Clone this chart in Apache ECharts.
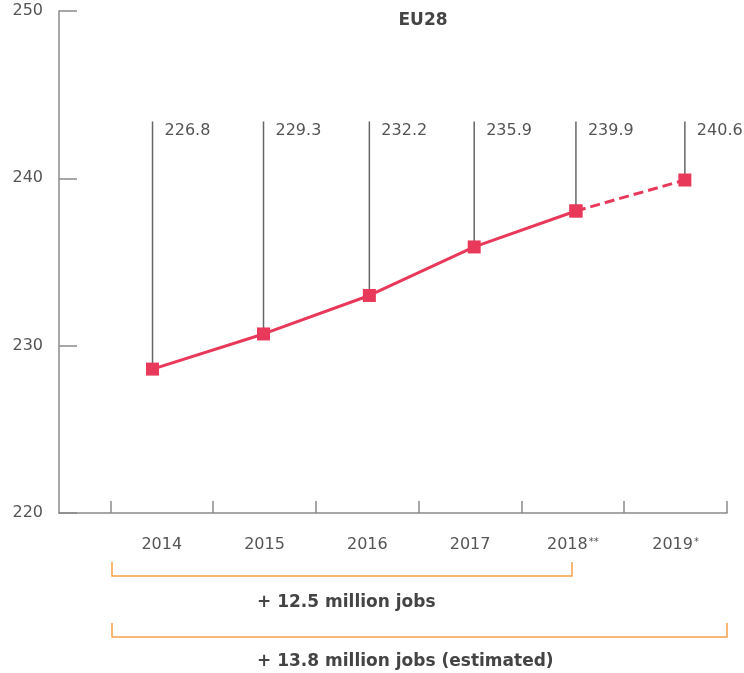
<!DOCTYPE html>
<html>
<head>
<meta charset="utf-8">
<script src="https://cdn.jsdelivr.net/npm/echarts@6/dist/echarts.min.js"></script>
<style>
  html, body { margin: 0; padding: 0; background: #fff; }
  #main { width: 744px; height: 673px; }
</style>
</head>
<body>
<div id="main"></div>
<script>
// categories and values
const years = ['2014', '2015', '2016', '2017', '2018', '2019'];
const yearMarks = ['', '', '', '', '**', '*'];
const xPos = [-0.09, 0.99, 2.02, 3.04, 4.03, 5.09];
const values = [228.6, 230.7, 233.0, 235.9, 238.05, 239.9];
const valueLabels = ['226.8', '229.3', '232.2', '235.9', '239.9', '240.6'];
const stemTop = 243.4;
const yTicks = [220, 230, 240, 250];

const red = '#e8395a';
const textColor = '#555';
const font = '"DejaVu Sans", sans-serif';

// solid part up to 2018, dashed estimate to 2019
const solidData = xPos.slice(0, 5).map((x, i) => [x, values[i]]);
const dashData = xPos.slice(4).map((x, i) => [x, values[i + 4]]);
const stemData = xPos.map((x, i) => [x, values[i]]);

const chart = echarts.init(document.getElementById('main'));

const option = {
  animation: false,
  title: {
    text: 'EU28',
    left: 418,
    top: 7,
    textAlign: 'center',
    textStyle: { fontFamily: font, fontSize: 17, fontWeight: 'bold', color: '#444' }
  },
  grid: { left: 59, right: 17, top: 11, bottom: 160 },
  xAxis: {
    type: 'value',
    min: -1,
    max: 5.5,
    splitLine: { show: false },
    axisLine: { show: true, onZero: false, lineStyle: { color: '#8a8a8a', width: 1.5 } },
    axisTick: {
      show: true,
      inside: true,
      length: 12,
      customValues: [-0.5, 0.5, 1.5, 2.5, 3.5, 4.5, 5.5],
      lineStyle: { color: '#8a8a8a', width: 1.5 }
    },
    axisLabel: {
      customValues: [0, 1, 2, 3, 4, 5],
      margin: 24,
      formatter: v => {
        const i = Math.round(v);
        return '{y|' + years[i] + '}' + (yearMarks[i] ? '{s|' + yearMarks[i] + '}' : '');
      },
      rich: {
        y: { fontFamily: font, fontSize: 16, color: textColor },
        s: { fontFamily: font, fontSize: 10, color: textColor, verticalAlign: 'top', padding: [0, 0, 6, 1] }
      }
    }
  },
  yAxis: {
    type: 'value',
    min: yTicks[0],
    max: yTicks[yTicks.length - 1],
    interval: 10,
    splitLine: { show: false },
    axisLine: { show: true, onZero: false, lineStyle: { color: '#8a8a8a', width: 1.5 } },
    axisTick: { show: true, inside: true, length: 18, lineStyle: { color: '#8a8a8a', width: 1.5 } },
    axisLabel: { margin: 16, fontFamily: font, fontSize: 16, color: textColor }
  },
  series: [
    {
      // vertical stems with the value labels at the top
      type: 'custom',
      z: 1,
      data: stemData,
      renderItem(params, api) {
        const x = api.value(0);
        const top = api.coord([x, stemTop]);
        const bot = api.coord([x, api.value(1)]);
        return {
          type: 'group',
          children: [
            {
              type: 'line',
              shape: { x1: top[0], y1: top[1], x2: bot[0], y2: bot[1] },
              style: { stroke: '#666', lineWidth: 1.5 }
            },
            {
              type: 'text',
              x: top[0] + 12,
              y: top[1] + 9,
              style: {
                text: valueLabels[params.dataIndex],
                fill: textColor,
                font: '16px ' + font,
                verticalAlign: 'middle'
              }
            }
          ]
        };
      }
    },
    {
      type: 'line',
      z: 3,
      data: solidData,
      symbol: 'rect',
      symbolSize: 13,
      lineStyle: { color: red, width: 3 },
      itemStyle: { color: red }
    },
    {
      type: 'line',
      z: 2,
      data: dashData,
      symbol: 'rect',
      symbolSize: 13,
      lineStyle: { color: red, width: 3, type: [10, 5] },
      itemStyle: { color: red }
    }
  ],
  graphic: [
    {
      type: 'polyline',
      shape: { points: [[112, 562], [112, 576], [572, 576], [572, 562]] },
      style: { stroke: '#f5a04a', lineWidth: 1.5, fill: null }
    },
    {
      type: 'text',
      left: 257,
      top: 594,
      style: { text: '+ 12.5 million jobs', font: 'bold 17px ' + font, fill: '#444' }
    },
    {
      type: 'polyline',
      shape: { points: [[112, 623], [112, 637], [727, 637], [727, 623]] },
      style: { stroke: '#f5a04a', lineWidth: 1.5, fill: null }
    },
    {
      type: 'text',
      left: 257,
      top: 653,
      style: { text: '+ 13.8 million jobs (estimated)', font: 'bold 17px ' + font, fill: '#444' }
    }
  ]
};

chart.setOption(option);
</script>
</body>
</html>
